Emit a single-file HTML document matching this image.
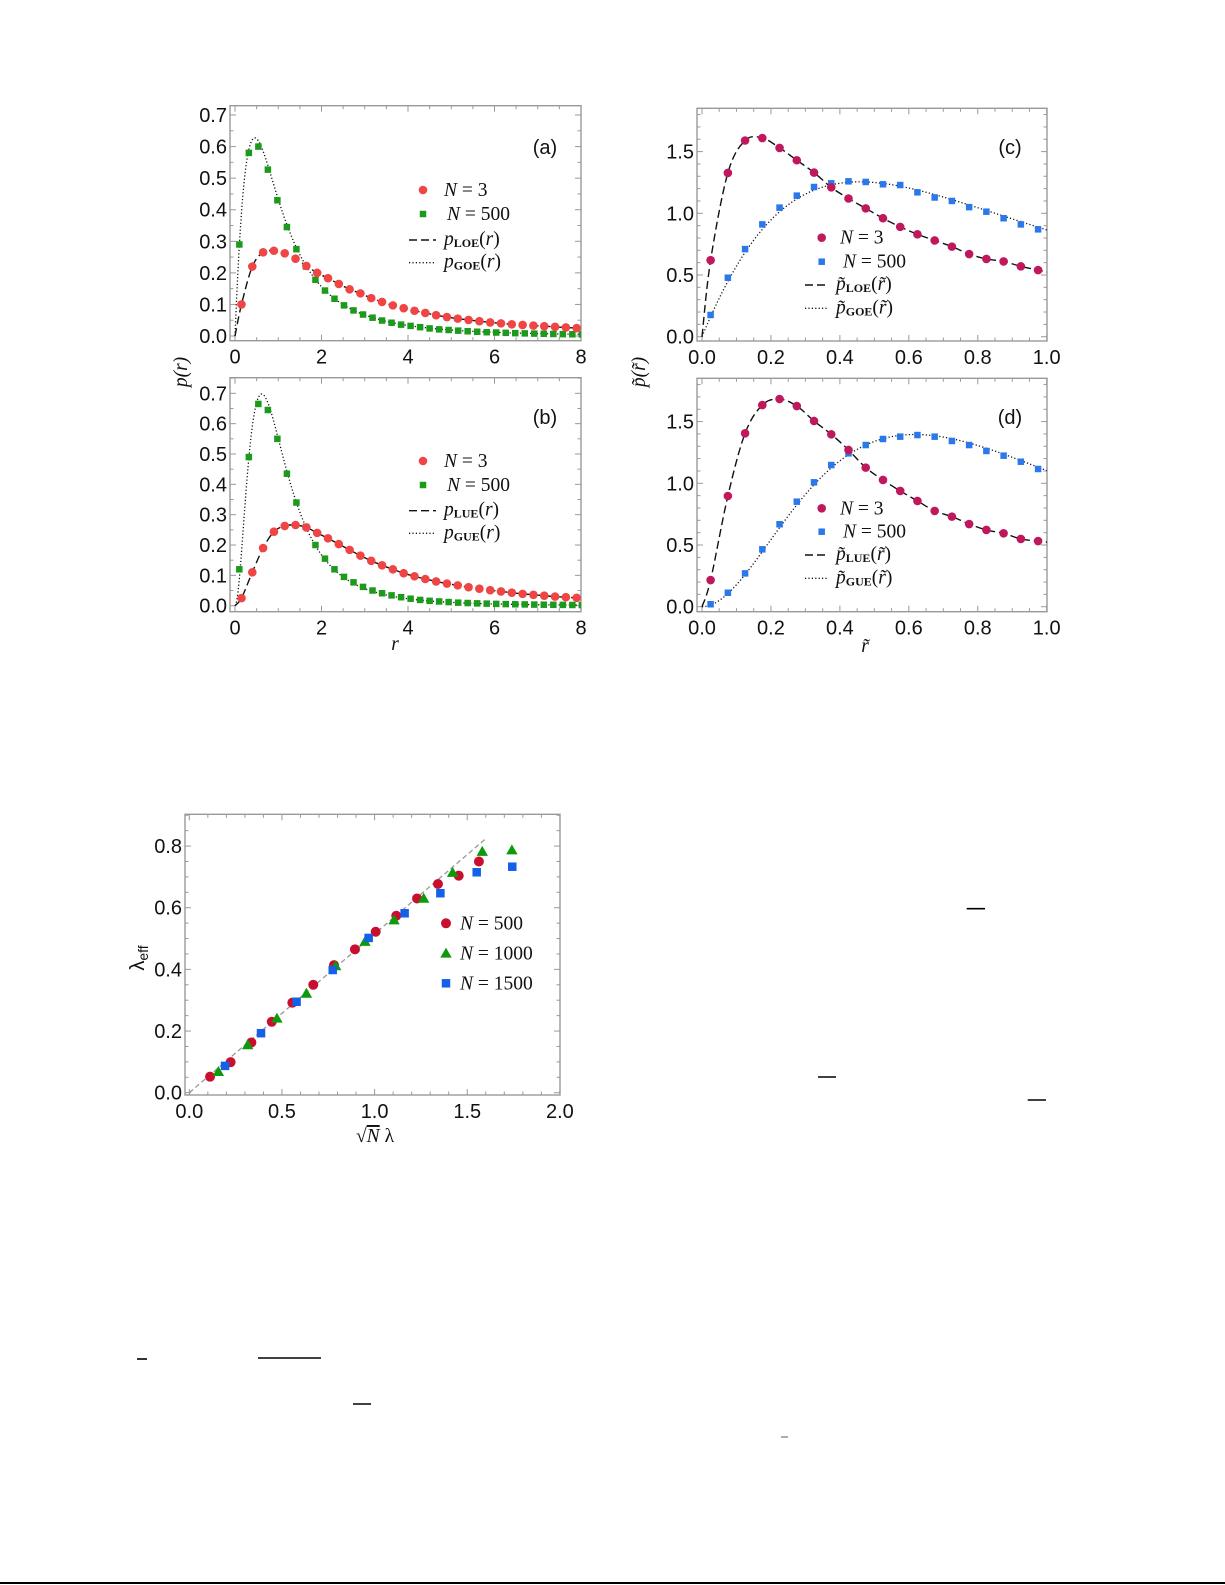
<!DOCTYPE html>
<html><head><meta charset="utf-8">
<style>
html,body{margin:0;padding:0;background:#fff;}
svg{display:block;}
.tk{font-family:"Liberation Sans",sans-serif;font-size:20px;fill:#111;}
.lg{font-family:"Liberation Serif",serif;font-size:19.5px;fill:#111;}
</style></head>
<body>
<svg id="fig" width="1225" height="1585" viewBox="0 0 1225 1585" xmlns="http://www.w3.org/2000/svg">
<rect width="1225" height="1585" fill="#fff"/>
<g id="plots"></g>
<g stroke="#000" stroke-width="1.6">
<line x1="966.7" y1="908.7" x2="985" y2="908.7"/>
<line x1="818" y1="1077" x2="836" y2="1077"/>
<line x1="1027.7" y1="1100" x2="1046" y2="1100"/>
<line x1="137" y1="1359" x2="147" y2="1359"/>
<line x1="258" y1="1358" x2="321" y2="1358"/>
<line x1="353" y1="1404" x2="371" y2="1404"/>
<line x1="781" y1="1437" x2="788" y2="1437" stroke="#999"/>
<line x1="0" y1="1583" x2="1225" y2="1583" stroke-width="2"/>
</g>
<text class="lg" font-style="italic" font-size="24" transform="translate(187,372) rotate(-90)" text-anchor="middle">p(r)</text>
<text class="lg" font-style="italic" font-size="24" transform="translate(645,372) rotate(-90)" text-anchor="middle">p̃(r̃)</text>
<text class="lg" font-style="italic" font-size="24" x="395" y="650" text-anchor="middle">r</text>
<text class="lg" font-style="italic" font-size="24" x="865" y="652" text-anchor="middle">r̃</text>
<text class="tk" font-size="20" transform="translate(144,958) rotate(-90)" text-anchor="middle">λ<tspan font-size="14" dy="4">eff</tspan></text>
<text class="lg" font-size="22" x="375" y="1142" text-anchor="middle">√<tspan text-decoration="overline" font-style="italic">N</tspan> λ</text>
</svg>
<script>
// ---------- data ----------
const a_N3 = [0.10,0.22,0.265,0.27,0.262,0.245,0.222,0.20,0.183,0.165,0.148,0.135,0.12,0.108,0.097,0.088,0.080,0.073,0.066,0.060,0.055,0.051,0.047,0.043,0.040,0.037,0.035,0.033,0.031,0.029,0.027,0.025];
const a_N500 = [0.29,0.58,0.60,0.527,0.43,0.345,0.275,0.22,0.178,0.144,0.118,0.097,0.081,0.068,0.058,0.049,0.042,0.036,0.032,0.028,0.024,0.021,0.019,0.017,0.015,0.0135,0.012,0.011,0.010,0.009,0.0083,0.0076,0.007,0.0064,0.0059,0.0055,0.0051];
const b_N3 = [0.025,0.11,0.19,0.244,0.263,0.266,0.258,0.24,0.222,0.203,0.184,0.165,0.148,0.133,0.12,0.107,0.097,0.088,0.08,0.073,0.067,0.061,0.056,0.051,0.047,0.043,0.039,0.036,0.033,0.03,0.028,0.026];
const b_N500 = [0.12,0.49,0.665,0.645,0.55,0.435,0.34,0.26,0.20,0.155,0.12,0.095,0.077,0.062,0.05,0.041,0.034,0.028,0.023,0.019,0.016,0.014,0.012,0.010,0.0088,0.0077,0.0068,0.006,0.0053,0.0047,0.0042,0.0037,0.0033,0.003,0.0027,0.0024,0.0022];
const c_N3 = [0.62,1.327,1.59,1.61,1.53,1.43,1.33,1.21,1.12,1.04,0.96,0.89,0.83,0.78,0.73,0.67,0.63,0.61,0.57,0.54];
const c_N500 = [0.176,0.478,0.71,0.91,1.046,1.143,1.213,1.243,1.259,1.254,1.235,1.229,1.17,1.128,1.10,1.05,1.013,0.96,0.91,0.87];
const d_N3 = [0.216,0.897,1.405,1.634,1.683,1.626,1.505,1.397,1.27,1.127,1.027,0.938,0.857,0.776,0.73,0.67,0.622,0.595,0.549,0.532];
const d_N500 = [0.02,0.113,0.27,0.465,0.668,0.851,1.008,1.148,1.243,1.31,1.359,1.378,1.391,1.378,1.343,1.31,1.262,1.224,1.175,1.116];
const e500x = [0.112,0.223,0.335,0.445,0.556,0.669,0.781,0.894,1.006,1.117,1.229,1.342,1.454,1.563];
const e500y = [0.052,0.099,0.163,0.230,0.292,0.350,0.414,0.465,0.522,0.574,0.630,0.677,0.704,0.750];
const e1000x = [0.157,0.315,0.473,0.632,0.790,0.948,1.105,1.265,1.421,1.581,1.741];
const e1000y = [0.068,0.155,0.241,0.322,0.411,0.49,0.56,0.63,0.714,0.782,0.787];
const e1500x = [0.193,0.387,0.579,0.774,0.968,1.162,1.355,1.551,1.743];
const e1500y = [0.087,0.193,0.295,0.398,0.502,0.582,0.647,0.715,0.733];
const refSlope = 0.515, refEnd = 1.6;
const xTicksR = ["0","2","4","6","8"], yTicksP = ["0.0","0.1","0.2","0.3","0.4","0.5","0.6","0.7"];
const xTicksT = ["0.0","0.2","0.4","0.6","0.8","1.0"], yTicksT = ["0.0","0.5","1.0","1.5"];
const xTicksE = ["0.0","0.5","1.0","1.5","2.0"], yTicksE = ["0.0","0.2","0.4","0.6","0.8"];

// ---------- helpers ----------
const NS="http://www.w3.org/2000/svg";
const root=document.getElementById('plots');
function mk(tag,attrs,parent){const e=document.createElementNS(NS,tag);for(const k in attrs)e.setAttribute(k,attrs[k]);(parent||root).appendChild(e);return e;}
function goe(r){const s=r+r*r;return 27/8*s/Math.pow(1+s,2.5);}
function gue(r){const s=r+r*r;return 81*Math.sqrt(3)/(4*Math.PI)*s*s/Math.pow(1+s,4);}
function smooth(pts){let d="M"+pts[0][0]+","+pts[0][1];for(let i=0;i<pts.length-1;i++){const p0=pts[Math.max(0,i-1)],p1=pts[i],p2=pts[i+1],p3=pts[Math.min(pts.length-1,i+2)];
 d+=" C"+(p1[0]+(p2[0]-p0[0])/6)+","+(p1[1]+(p2[1]-p0[1])/6)+" "+(p2[0]-(p3[0]-p1[0])/6)+","+(p2[1]-(p3[1]-p1[1])/6)+" "+p2[0]+","+p2[1];}return d;}

function panel(P){
 const g=mk('g',{});
 
 
 const X=v=>P.x0+v*P.xs, Y=v=>P.y0-v*P.ys;
 const cp='clip-'+P.name;
 const cl=mk('clipPath',{id:cp},g); mk('rect',{x:P.fx0,y:P.fy0,width:P.fx1-P.fx0,height:P.fy1-P.fy0},cl);
 const fr=mk('rect',{x:P.fx0,y:P.fy0,width:P.fx1-P.fx0,height:P.fy1-P.fy0,fill:'none',stroke:'#999','stroke-width':1.4},g);
 
 
 const tg=mk('g',{stroke:'#999','stroke-width':1},g);
 
 
 for(let v=P.xmin;v<=P.xmax+1e-9;v+=P.xminor){const x=X(v);if(x<P.fx0-0.5||x>P.fx1+0.5)continue;const maj=Math.abs(v/P.xmajor-Math.round(v/P.xmajor))<1e-6;const L=maj?6:3.5;
  mk('line',{x1:x,y1:P.fy1,x2:x,y2:P.fy1-L},tg);mk('line',{x1:x,y1:P.fy0,x2:x,y2:P.fy0+L},tg);}
 for(let v=P.ymin;v<=P.ymax+1e-9;v+=P.yminor){const y=Y(v);if(y<P.fy0-0.5||y>P.fy1+0.5)continue;const maj=Math.abs(v/P.ymajor-Math.round(v/P.ymajor))<1e-6;const L=maj?6:3.5;
  mk('line',{x1:P.fx0,y1:y,x2:P.fx0+L,y2:y},tg);mk('line',{x1:P.fx1,y1:y,x2:P.fx1-L,y2:y},tg);}
 P.xt.forEach((t,i)=>{const e=mk('text',{x:X(i*P.xmajor),y:P.fy1+23,'text-anchor':'middle',class:'tk'},g);e.textContent=t;
  
  });
 P.yt.forEach((t,i)=>{const e=mk('text',{x:P.fx0-3,y:Y(i*P.ymajor)+7,'text-anchor':'end',class:'tk'},g);e.textContent=t;
  
  });
 const pg=mk('g',{'clip-path':'url(#'+cp+')'},g);
 return {g,pg,X,Y};
}
function dot(pg,x,y,r,c){const e=mk('circle',{cx:x,cy:y,r:r,fill:c},pg);
 
 }
function sq(pg,x,y,s,c){const e=mk('rect',{x:x-s/2,y:y-s/2,width:s,height:s,fill:c},pg);
 
 }
function tri(pg,x,y,s,c){const e=mk('polygon',{points:(x)+","+(y-s*0.6)+" "+(x-s*0.6)+","+(y+s*0.45)+" "+(x+s*0.6)+","+(y+s*0.45),fill:c},pg);
 
 }

function distPanel(P){
 const o=panel(P);
 const pts=[[o.X(0),o.Y(0)]].concat(P.n3.map((v,i)=>[o.X(P.s3+i*P.d3),o.Y(v)]));
 const last=P.n3.length-1;
 pts.push([o.X(P.s3+last*P.d3+P.d3),o.Y(P.n3[last]-(P.n3[last-1]-P.n3[last]))]);
 const dl=mk('path',{d:smooth(pts),fill:'none',stroke:'#111','stroke-width':1.4,'stroke-dasharray':'8,4'},o.pg);
 
 
 let d="";for(let i=0;i<=400;i++){const r=P.xmax*i/400;const v=P.f(r);d+=(i?"L":"M")+o.X(r).toFixed(2)+","+o.Y(v).toFixed(2);}
 const ol=mk('path',{d:d,fill:'none',stroke:'#111','stroke-width':1.3,'stroke-dasharray':'1.2,2.2'},o.pg);
 
 
 P.n500.forEach((v,i)=>sq(o.pg,o.X(P.s5+i*P.d5),o.Y(v),P.sqs,P.c5));
 P.n3.forEach((v,i)=>dot(o.pg,o.X(P.s3+i*P.d3),o.Y(v),P.cr,P.c3));
 const lb=mk('text',{x:P.lab[0],y:P.lab[1],'text-anchor':'middle',class:'tk','font-size':27},o.g);lb.textContent=P.labt;
 
 
 const L=P.leg, lg=mk('g',{},o.g);
 
 
 dot(lg,L.mx,L.y[0],P.cr,P.c3); sq(lg,L.mx,L.y[1],P.sqs,P.c5);
 let t=mk('text',{x:L.tx,y:L.y[0]+6,class:'lg'},lg);t.innerHTML='<tspan font-style="italic">N</tspan> = 3';
 t=mk('text',{x:L.tx+3,y:L.y[1]+6,class:'lg'},lg);t.innerHTML='<tspan font-style="italic">N</tspan> = 500';
 mk('line',{x1:L.lx0,y1:L.y[2],x2:L.lx1,y2:L.y[2],stroke:'#111','stroke-width':1.4,'stroke-dasharray':'8,4'},lg);
 mk('line',{x1:L.lx0,y1:L.y[3],x2:L.lx1,y2:L.y[3],stroke:'#111','stroke-width':1.3,'stroke-dasharray':'1.2,2.2'},lg);
 const pl=P.tilde?'p̃':'p', ar=P.tilde?'r̃':'r';
 t=mk('text',{x:L.lx1+8,y:L.y[2]+5,class:'lg'},lg);t.innerHTML='<tspan font-style="italic">'+pl+'</tspan><tspan font-size="12" font-weight="bold" dy="2">'+P.s1+'</tspan><tspan dy="-2">(</tspan><tspan font-style="italic">'+ar+'</tspan>)';
 t=mk('text',{x:L.lx1+8,y:L.y[3]+5,class:'lg'},lg);t.innerHTML='<tspan font-style="italic">'+pl+'</tspan><tspan font-size="12" font-weight="bold" dy="2">'+P.s2+'</tspan><tspan dy="-2">(</tspan><tspan font-style="italic">'+ar+'</tspan>)';
}
const RED='#f04545',GRN='#1c9a1c',MAG='#c0185c',BLU='#2b78ec';
distPanel({name:'panel-a',x0:235,xs:43.25,y0:336,ys:315.7,fx0:230,fx1:581,fy0:105.7,fy1:340.7,xmin:0,xmax:8,xmajor:2,xminor:0.5,ymin:0,ymax:0.75,ymajor:0.1,yminor:0.05,xt:xTicksR,yt:yTicksP,
 n3:a_N3,s3:0.15,d3:0.25,n500:a_N500,s5:0.1,d5:0.22,f:goe,c3:RED,c5:GRN,cr:4.3,sqs:6.5,lab:[545,154],labt:'(a)',s1:'LOE',s2:'GOE',tilde:false,
 leg:{mx:423,tx:444,lx0:409,lx1:436,y:[190,214,240,262.7]}});
distPanel({name:'panel-b',x0:235,xs:43.25,y0:605.7,ys:303.4,fx0:230,fx1:581,fy0:377.7,fy1:611.7,xmin:0,xmax:8,xmajor:2,xminor:0.5,ymin:0,ymax:0.75,ymajor:0.1,yminor:0.05,xt:xTicksR,yt:yTicksP,
 n3:b_N3,s3:0.15,d3:0.25,n500:b_N500,s5:0.1,d5:0.22,f:gue,c3:RED,c5:GRN,cr:4.3,sqs:6.5,lab:[545,424],labt:'(b)',s1:'LUE',s2:'GUE',tilde:false,
 leg:{mx:423,tx:444,lx0:409,lx1:436,y:[461,485,510.7,533.3]}});
distPanel({name:'panel-c',x0:702,xs:344.7,y0:336.7,ys:123.4,fx0:697,fx1:1047,fy0:108.3,fy1:341,xmin:0,xmax:1,xmajor:0.2,xminor:0.05,ymin:0,ymax:1.85,ymajor:0.5,yminor:0.1,xt:xTicksT,yt:yTicksT,
 n3:c_N3,s3:0.025,d3:0.05,n500:c_N500,s5:0.025,d5:0.05,f:r=>2*goe(r),c3:MAG,c5:BLU,cr:4.3,sqs:6.5,lab:[1010,154],labt:'(c)',s1:'LOE',s2:'GOE',tilde:true,
 leg:{mx:821.7,tx:840,lx0:805,lx1:828,y:[237.7,261.7,285,308.3]}});
distPanel({name:'panel-d',x0:702,xs:344.7,y0:606.7,ys:123.4,fx0:697,fx1:1047,fy0:378.3,fy1:611.7,xmin:0,xmax:1,xmajor:0.2,xminor:0.05,ymin:0,ymax:1.85,ymajor:0.5,yminor:0.1,xt:xTicksT,yt:yTicksT,
 n3:d_N3,s3:0.025,d3:0.05,n500:d_N500,s5:0.025,d5:0.05,f:r=>2*gue(r),c3:MAG,c5:BLU,cr:4.3,sqs:6.5,lab:[1010,424],labt:'(d)',s1:'LUE',s2:'GUE',tilde:true,
 leg:{mx:821.7,tx:840,lx0:805,lx1:828,y:[508.3,531.7,555,578.3]}});

(function(){
 const P={name:'panel-lambda-eff',x0:189.3,xs:185.3,y0:1092.7,ys:308.3,fx0:185,fx1:560,fy0:814.3,fy1:1095,xmin:0,xmax:2,xmajor:0.5,xminor:0.1,ymin:0,ymax:0.9,ymajor:0.2,yminor:0.05,xt:xTicksE,yt:yTicksE};
 const o=panel(P);
 const rl=mk('line',{x1:o.X(0),y1:o.Y(0),x2:o.X(refEnd),y2:o.Y(refSlope*refEnd),stroke:'#999','stroke-width':1.3,'stroke-dasharray':'5,3'},o.pg);
 
 
 const R='#c8102e',G='#0d9a0d',B='#1460e6';
 e500x.forEach((x,i)=>dot(o.pg,o.X(x),o.Y(e500y[i]),5,R));
 e1000x.forEach((x,i)=>tri(o.pg,o.X(x),o.Y(e1000y[i]),9.5,G));
 e1500x.forEach((x,i)=>sq(o.pg,o.X(x),o.Y(e1500y[i]),8.5,B));
 const lg=mk('g',{},o.g);
 
 
 dot(lg,446,923.3,5,R); tri(lg,446,953.3,9.5,G); sq(lg,446,983.3,8.5,B);
 [['500',923.3],['1000',953.3],['1500',983.3]].forEach(a=>{const t=mk('text',{x:460,y:a[1]+6,class:'lg'},lg);t.innerHTML='<tspan font-style="italic">N</tspan> = '+a[0];});
})();
</script>
</body></html>
